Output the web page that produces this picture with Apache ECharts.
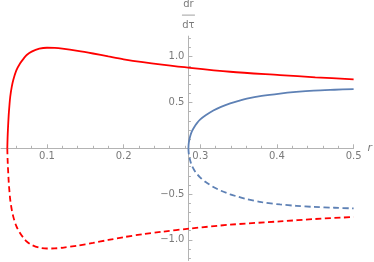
<!DOCTYPE html>
<html><head><meta charset="utf-8">
<script src="https://cdn.jsdelivr.net/npm/echarts@6/dist/echarts.min.js"></script>
<style>html,body{margin:0;padding:0;background:#fff}#c{width:374px;height:262px}</style>
</head><body><div id="c"></div>
<script>
// Data
const rRedSolid = [0.0482,0.0486,0.049,0.050,0.051,0.052,0.054,0.056,0.060,0.065,0.070,0.0735,0.080,0.090,0.100,0.110,0.120,0.140,0.160,0.180,0.200,0.225,0.250,0.2866,0.339,0.404,0.450,0.500];
const vRedSolid = [0,0.12,0.20,0.36,0.47,0.56,0.67,0.746,0.85,0.928,0.985,1.018,1.055,1.087,1.098,1.096,1.088,1.064,1.035,1.003,0.972,0.940,0.913,0.878,0.836,0.800,0.775,0.753];
const rRedDashed = rRedSolid;
const vRedDashed = [0,-0.12,-0.20,-0.36,-0.47,-0.56,-0.67,-0.746,-0.85,-0.928,-0.985,-1.018,-1.055,-1.085,-1.094,-1.093,-1.086,-1.062,-1.033,-1.001,-0.970,-0.938,-0.911,-0.876,-0.834,-0.798,-0.772,-0.750];
const rBlue = [0.2845,0.2848,0.2855,0.2867,0.289,0.292,0.2954,0.300,0.307,0.317,0.327,0.339,0.350,0.3607,0.380,0.404,0.425,0.448,0.475,0.500];
const vBlueSolid = [0,0.045,0.085,0.13,0.185,0.23,0.272,0.315,0.36,0.413,0.452,0.49,0.518,0.542,0.572,0.598,0.615,0.629,0.639,0.647];
const vBlueDashed = [0,-0.045,-0.085,-0.13,-0.19,-0.237,-0.278,-0.32,-0.368,-0.422,-0.463,-0.502,-0.531,-0.555,-0.587,-0.613,-0.628,-0.640,-0.649,-0.656];
const xTickLabels = [0.1,0.2,0.3,0.4,0.5];
const xMinorTicks = [0.06,0.08,0.12,0.14,0.16,0.18,0.22,0.24,0.26,0.28,0.32,0.34,0.36,0.38,0.42,0.44,0.46,0.48];
const yTickLabels = [-1.0,-0.5,0.5,1.0];
const yMinorTicks = [-1.2,-1.1,-0.9,-0.8,-0.7,-0.6,-0.4,-0.3,-0.2,-0.1,0.1,0.2,0.3,0.4,0.6,0.7,0.8,0.9,1.1,1.2];
const yAxisCrossR = 0.2845;

const pair = (xs, ys) => xs.map((x, i) => [x, ys[i]]);
const AX = '#b3b3b3', TX = '#7a7a7a', FONT = 'DejaVu Sans';
const RED = '#ff0000', BLUE = '#5e81b5';
const X_MIN = 0.04, X_MAX = 0.5, Y_MIN = -1.225, Y_MAX = 1.225;

const chart = echarts.init(document.getElementById('c'), null, {renderer: 'canvas'});
const fmtY = v => (v < 0 ? '\u2212' + Math.abs(v).toFixed(1) : v.toFixed(1));
const yBase = {
  type: 'value', min: Y_MIN, max: Y_MAX, position: 'left',
  axisLine: {show: true, onZero: false, lineStyle: {color: AX, width: 1}},
  splitLine: {show: false}
};
const xBase = {
  type: 'value', min: X_MIN, max: X_MAX, position: 'bottom',
  axisLine: {show: true, onZero: false, lineStyle: {color: AX, width: 1}},
  splitLine: {show: false}
};
const lineSeries = (data, color, dashed) => ({
  type: 'line', data, showSymbol: false, smooth: 0.3,
  lineStyle: {color, width: 1.8, type: dashed ? [6, 3.5] : 'solid'},
  emphasis: {disabled: true}, z: 3
});
chart.setOption({
  animation: false,
  grid: {left: 1.01, width: 352.6, top: 36.1, height: 224.4, containLabel: false, outerBoundsMode: 'none'},
  xAxis: [
    Object.assign({}, xBase, {
      name: 'r', nameLocation: 'end', nameGap: 13,
      nameTextStyle: {fontFamily: FONT, fontStyle: 'italic', fontSize: 11, color: TX, padding: [0, 0, 6, 0]},
      axisTick: {show: true, inside: true, length: 4, customValues: xTickLabels, lineStyle: {color: AX}},
      axisLabel: {fontFamily: FONT, fontSize: 10, color: TX, margin: 3, customValues: xTickLabels,
        formatter: v => v.toFixed(1)}
    }),
    Object.assign({}, xBase, {
      axisLine: {show: false},
      axisTick: {show: true, inside: true, length: 2.5, customValues: xMinorTicks, lineStyle: {color: AX}},
      axisLabel: {show: false}
    })
  ],
  yAxis: [
    Object.assign({}, yBase, {
      name: '{t|dr}\n{l| }\n{t|d\u03c4}', nameLocation: 'end', nameGap: 5,
      nameTextStyle: {
        align: 'center', verticalAlign: 'bottom',
        rich: {
          t: {fontFamily: FONT, fontSize: 10, color: TX, lineHeight: 11, align: 'center'},
          l: {width: 13, height: 1, lineHeight: 10, backgroundColor: '#a0a0a0', align: 'center', fontSize: 1}
        }
      },
      axisTick: {show: true, inside: true, length: 4, customValues: yTickLabels, lineStyle: {color: AX}},
      axisLabel: {fontFamily: FONT, fontSize: 10, color: TX, margin: 4, customValues: yTickLabels, formatter: fmtY}
    }),
    Object.assign({}, yBase, {
      axisLine: {show: false},
      axisTick: {show: true, inside: true, length: 2.5, customValues: yMinorTicks, lineStyle: {color: AX}},
      axisLabel: {show: false}
    })
  ],
  series: [
    lineSeries(pair(rRedSolid, vRedSolid), RED, false),
    lineSeries(pair(rRedDashed, vRedDashed), RED, true),
    lineSeries(pair(rBlue, vBlueSolid), BLUE, false),
    lineSeries(pair(rBlue, vBlueDashed), BLUE, true)
  ]
});
// Place the axes where they cross: y axis at r = yAxisCrossR, x axis at value 0
const xOff = -(chart.convertToPixel({xAxisIndex: 0}, yAxisCrossR) - chart.convertToPixel({xAxisIndex: 0}, X_MIN));
const yOff = -(chart.convertToPixel({yAxisIndex: 0}, Y_MIN) - chart.convertToPixel({yAxisIndex: 0}, 0));
chart.setOption({
  yAxis: [{offset: xOff}, {offset: xOff}],
  xAxis: [{offset: yOff}, {offset: yOff}]
});
</script></body></html>
